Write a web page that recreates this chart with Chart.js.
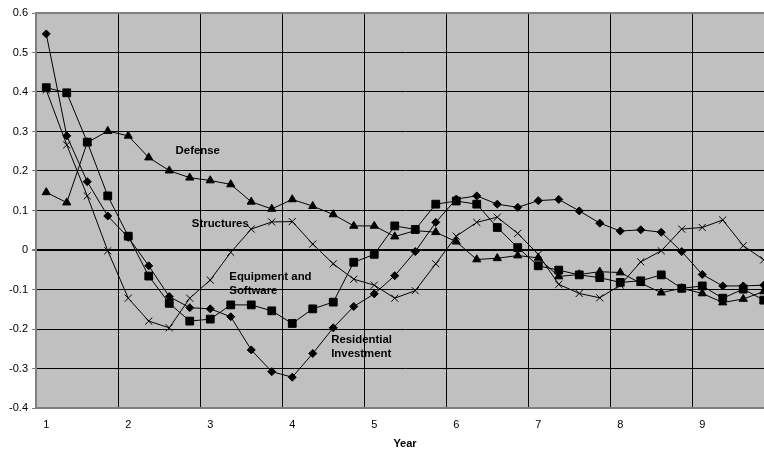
<!DOCTYPE html>
<html>
<head>
<meta charset="utf-8">
<script src="https://cdn.jsdelivr.net/npm/chart.js@4.4.1/dist/chart.umd.min.js"></script>
<style>
  html, body { margin: 0; padding: 0; background: #fff; overflow: hidden; }
  #wrap { position: relative; width: 784px; height: 451px; }
</style>
</head>
<body>
<div id="wrap"><canvas id="chart"></canvas></div>
<script>
// quarters after the shock, labelled by year on the axis
const quarters = [1, 1.25, 1.5, 1.75, 2, 2.25, 2.5, 2.75, 3, 3.25, 3.5, 3.75,
  4, 4.25, 4.5, 4.75, 5, 5.25, 5.5, 5.75, 6, 6.25, 6.5, 6.75,
  7, 7.25, 7.5, 7.75, 8, 8.25, 8.5, 8.75, 9, 9.25, 9.5, 9.75];

const residential = [0.547, 0.289, 0.173, 0.086, 0.032, -0.040, -0.118, -0.146, -0.149, -0.169, -0.253, -0.308,
  -0.322, -0.262, -0.197, -0.143, -0.111, -0.065, -0.004, 0.070, 0.129, 0.137, 0.116, 0.108,
  0.125, 0.128, 0.099, 0.068, 0.048, 0.051, 0.045, -0.004, -0.062, -0.091, -0.091, -0.089];

const equipment = [0.411, 0.398, 0.273, 0.137, 0.035, -0.066, -0.135, -0.180, -0.175, -0.139, -0.139, -0.154,
  -0.186, -0.149, -0.132, -0.031, -0.011, 0.061, 0.052, 0.116, 0.124, 0.116, 0.057, 0.006,
  -0.040, -0.051, -0.063, -0.070, -0.082, -0.078, -0.063, -0.097, -0.091, -0.122, -0.099, -0.127];

const defense = [0.146, 0.120, 0.272, 0.301, 0.289, 0.234, 0.201, 0.183, 0.176, 0.166, 0.122, 0.104,
  0.128, 0.111, 0.090, 0.061, 0.061, 0.034, 0.049, 0.045, 0.021, -0.024, -0.021, -0.014,
  -0.020, -0.067, -0.062, -0.055, -0.057, -0.084, -0.108, -0.097, -0.110, -0.133, -0.124, -0.105];

const structures = [0.405, 0.266, 0.137, -0.002, -0.122, -0.180, -0.197, -0.122, -0.076, -0.006, 0.053, 0.071,
  0.072, 0.015, -0.035, -0.074, -0.089, -0.122, -0.103, -0.035, 0.035, 0.070, 0.083, 0.042,
  -0.011, -0.087, -0.110, -0.121, -0.089, -0.030, -0.002, 0.053, 0.057, 0.076, 0.011, -0.025];

// in-plot series labels (x = category index, y = value)
const notes = [
  { lines: ["Defense"], x: 7.39, y: 0.252, align: "center" },
  { lines: ["Structures"], x: 8.49, y: 0.066, align: "center" },
  { lines: ["Equipment and", "Software"], x: 8.93, y: -0.068, align: "left" },
  { lines: ["Residential", "Investment"], x: 13.9, y: -0.228, align: "left" },
];

const FONT = '"Liberation Sans", Arial, sans-serif';
Chart.defaults.font.family = FONT;
Chart.defaults.font.size = 11;
Chart.defaults.color = "#000";

const plotBg = {
  id: "plotBg",
  beforeDraw(chart) {
    const { ctx, chartArea: a } = chart;
    ctx.save();
    ctx.fillStyle = "#c0c0c0";
    ctx.fillRect(a.left, a.top, a.right - a.left, a.bottom - a.top);
    ctx.restore();
  },
  beforeDatasetsDraw(chart) {
    const { ctx, chartArea: a } = chart;
    ctx.save();
    ctx.strokeStyle = "#808080";
    ctx.lineWidth = 2;
    ctx.strokeRect(a.left, a.top, a.right - a.left, a.bottom - a.top);
    ctx.restore();
  },
};

const seriesNotes = {
  id: "seriesNotes",
  afterDatasetsDraw(chart) {
    const { ctx, scales } = chart;
    ctx.save();
    ctx.font = "bold 11.4px " + FONT;
    ctx.fillStyle = "#000";
    ctx.textBaseline = "middle";
    notes.forEach((n) => {
      const px = scales.x.getPixelForValue(n.x);
      const py = scales.y.getPixelForValue(n.y);
      ctx.textAlign = n.align;
      n.lines.forEach((t, i) => ctx.fillText(t, px, py + i * 14));
    });
    ctx.restore();
  },
};

function series(label, data, style, radius) {
  return {
    label,
    data,
    borderColor: "#000",
    backgroundColor: "#000",
    borderWidth: 1,
    pointStyle: style,
    pointRadius: radius,
    pointBorderColor: "#000",
    pointBackgroundColor: "#000",
    pointBorderWidth: 1,
    tension: 0,
  };
}

new Chart(document.querySelector("#chart"), {
  type: "line",
  data: {
    labels: quarters,
    datasets: [
      series("Structures", structures, "crossRot", 5),
      series("Defense", defense, "triangle", 4.7),
      series("Equipment and Software", equipment, "rect", 5.5),
      series("Residential Investment", residential, "rectRot", 4),
    ],
  },
  options: {
    responsive: true,
    maintainAspectRatio: false,
    animation: false,
    layout: { padding: { top: 13, right: 10, left: 0, bottom: 0 } },
    plugins: { legend: { display: false }, tooltip: { enabled: false } },
    scales: {
      x: {
        type: "category",
        offset: true,
        grid: {
          offset: true,
          drawTicks: false,
          color: (c) => (c.index % 4 === 0 ? "#000" : "rgba(0,0,0,0)"),
          lineWidth: 1,
        },
        border: { display: false },
        ticks: {
          autoSkip: false,
          maxRotation: 0,
          padding: 10,
          font: { size: 11 },
          callback: (v, i) => (Number.isInteger(quarters[i]) ? String(quarters[i]) : ""),
        },
        title: { display: true, text: "Year", font: { size: 11, weight: "bold" }, padding: 0 },
        afterFit(s) { s.height = 43; },
      },
      y: {
        min: -0.4,
        max: 0.6,
        ticks: {
          stepSize: 0.1,
          padding: 4,
          font: { size: 11 },
          callback: (v) => String(Math.round(v * 10) / 10),
        },
        grid: {
          color: "#000",
          lineWidth: (c) => (c.tick && Math.abs(c.tick.value) < 1e-9 ? 2 : 1),
          tickLength: 4,
          tickColor: "#808080",
        },
        border: { color: "#808080", width: 2 },
        afterFit(s) { s.width = 36; },
      },
    },
  },
  plugins: [plotBg, seriesNotes],
});
</script>
</body>
</html>
